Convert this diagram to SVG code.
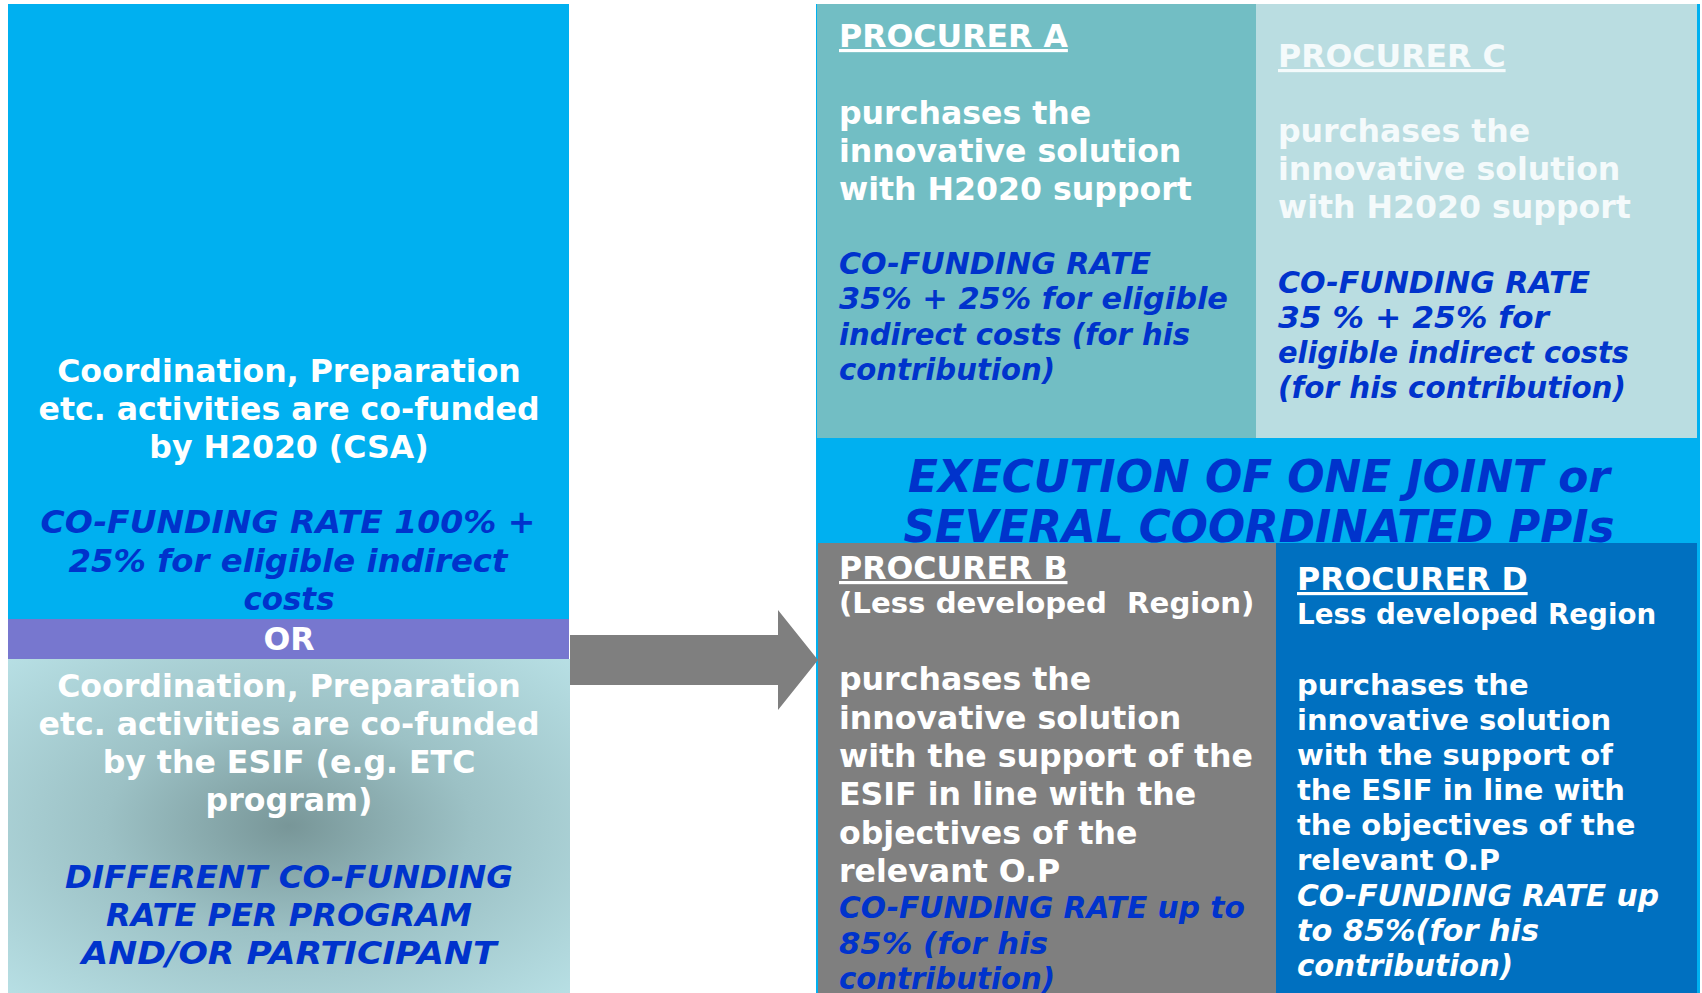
<svg xmlns="http://www.w3.org/2000/svg" width="1702" height="993" viewBox="0 0 1702 993">
  <defs>
    <radialGradient id="esifShade" cx="50%" cy="50%" r="72%">
      <stop offset="0" stop-color="#789698"/>
      <stop offset="0.45" stop-color="#9CC1C5"/>
      <stop offset="1" stop-color="#B8E0E5"/>
    </radialGradient>
    <style>
      .t { font-family: "DejaVu Sans", Verdana, "Liberation Sans", sans-serif; font-weight: bold; }
      .w { fill: #FFFFFF; }
      .fw { fill: #F4FAFB; }
      .bl { fill: #0033CC; }
      .it { font-style: italic; }
      .mid { text-anchor: middle; }
      .ul { text-decoration: underline; }
      .s316 { font-size: 31.6px; }
      .s32 { font-size: 32px; }
      .s30 { font-size: 30px; }
      .s29 { font-size: 29px; }
      .s44 { font-size: 44px; }
    </style>
  </defs>

  <rect width="1702" height="993" fill="#FFFFFF"/>

  <!-- Left column: coordination activities funded by H2020 -->
  <g id="csa-h2020">
    <rect x="8" y="4" width="561" height="615" fill="#00B0F0"/>
    <text class="t w mid s316" x="289" y="382">Coordination, Preparation</text>
    <text class="t w mid s316" x="289" y="420">etc. activities are co-funded</text>
    <text class="t w mid s316" x="289" y="458">by H2020 (CSA)</text>
    <text class="t bl it mid s32" x="288" y="533" textLength="495" lengthAdjust="spacingAndGlyphs">CO-FUNDING RATE 100% +</text>
    <text class="t bl it mid s32" x="288" y="572" textLength="439" lengthAdjust="spacingAndGlyphs">25% for eligible indirect</text>
    <text class="t bl it mid s32" x="289" y="610" textLength="91" lengthAdjust="spacingAndGlyphs">costs</text>
  </g>

  <!-- Alternative separator -->
  <g id="or-label">
    <rect x="8" y="619" width="561" height="40" fill="#7777CF"/>
    <text class="t w mid s316" x="289" y="650">OR</text>
  </g>

  <!-- Left column: coordination activities funded by ESIF -->
  <g id="csa-esif">
    <rect x="8" y="659" width="562" height="334" fill="url(#esifShade)"/>
    <text class="t w mid s316" x="289" y="697">Coordination, Preparation</text>
    <text class="t w mid s316" x="289" y="735">etc. activities are co-funded</text>
    <text class="t w mid s316" x="289" y="773">by the ESIF (e.g. ETC</text>
    <text class="t w mid s316" x="289" y="811">program)</text>
    <text class="t bl it mid s32" x="289" y="888" textLength="448" lengthAdjust="spacingAndGlyphs">DIFFERENT CO-FUNDING</text>
    <text class="t bl it mid s32" x="289" y="926" textLength="366" lengthAdjust="spacingAndGlyphs">RATE PER PROGRAM</text>
    <text class="t bl it mid s32" x="289" y="964" textLength="415" lengthAdjust="spacingAndGlyphs">AND/OR PARTICIPANT</text>
  </g>

  <!-- Right block frame -->
  <rect x="816" y="4" width="884" height="989" fill="#00B0F0"/>

  <g id="procurer-a">
    <rect x="817" y="4" width="439" height="434" fill="#72BEC4"/>
    <text class="t w ul s316" x="839" y="47">PROCURER A</text>
    <text class="t w s316" x="839" y="124">purchases the</text>
    <text class="t w s316" x="839" y="162">innovative solution</text>
    <text class="t w s316" x="839" y="200">with H2020 support</text>
    <text class="t bl it s30" x="839" y="274" textLength="312" lengthAdjust="spacingAndGlyphs">CO-FUNDING RATE</text>
    <text class="t bl it s30" x="839" y="309" textLength="389" lengthAdjust="spacingAndGlyphs">35% + 25% for eligible</text>
    <text class="t bl it s30" x="839" y="345" textLength="351" lengthAdjust="spacingAndGlyphs">indirect costs (for his</text>
    <text class="t bl it s30" x="839" y="380" textLength="216" lengthAdjust="spacingAndGlyphs">contribution)</text>
  </g>

  <g id="procurer-c">
    <rect x="1256" y="4" width="441" height="434" fill="#BADDE1"/>
    <text class="t fw ul s316" x="1278" y="67">PROCURER C</text>
    <text class="t fw s316" x="1278" y="142">purchases the</text>
    <text class="t fw s316" x="1278" y="180">innovative solution</text>
    <text class="t fw s316" x="1278" y="218">with H2020 support</text>
    <text class="t bl it s30" x="1278" y="293" textLength="312" lengthAdjust="spacingAndGlyphs">CO-FUNDING RATE</text>
    <text class="t bl it s30" x="1278" y="328" textLength="271" lengthAdjust="spacingAndGlyphs">35 % + 25% for</text>
    <text class="t bl it s30" x="1278" y="363" textLength="351" lengthAdjust="spacingAndGlyphs">eligible indirect costs</text>
    <text class="t bl it s30" x="1278" y="398" textLength="348" lengthAdjust="spacingAndGlyphs">(for his contribution)</text>
  </g>

  <g id="execution">
    <rect x="817" y="438" width="880" height="105" fill="#00B0F0"/>
    <text class="t bl it mid s44" x="1259" y="492" textLength="702" lengthAdjust="spacingAndGlyphs">EXECUTION OF ONE JOINT or</text>
    <text class="t bl it mid s44" x="1259" y="542" textLength="711" lengthAdjust="spacingAndGlyphs">SEVERAL COORDINATED PPIs</text>
  </g>

  <g id="procurer-b">
    <rect x="818" y="543" width="458" height="450" fill="#7F7F7F"/>
    <text class="t w ul s316" x="839" y="579">PROCURER B</text>
    <text class="t w" x="839" y="613" font-size="29.2" style="white-space:pre">(Less developed  Region)</text>
    <text class="t w s316" x="839" y="690">purchases the</text>
    <text class="t w s316" x="839" y="729">innovative solution</text>
    <text class="t w s316" x="839" y="767">with the support of the</text>
    <text class="t w s316" x="839" y="805">ESIF in line with the</text>
    <text class="t w s316" x="839" y="844">objectives of the</text>
    <text class="t w s316" x="839" y="882">relevant O.P</text>
    <text class="t bl it s30" x="839" y="918" textLength="406" lengthAdjust="spacingAndGlyphs">CO-FUNDING RATE up to</text>
    <text class="t bl it s30" x="839" y="954" textLength="209" lengthAdjust="spacingAndGlyphs">85% (for his</text>
    <text class="t bl it s30" x="839" y="989" textLength="216" lengthAdjust="spacingAndGlyphs">contribution)</text>
  </g>

  <g id="procurer-d">
    <rect x="1276" y="543" width="421" height="450" fill="#0070C0"/>
    <text class="t w ul s316" x="1297" y="590">PROCURER D</text>
    <text class="t w" x="1297" y="624" font-size="27.7">Less developed Region</text>
    <text class="t w s29" x="1297" y="695">purchases the</text>
    <text class="t w s29" x="1297" y="730">innovative solution</text>
    <text class="t w s29" x="1297" y="765">with the support of</text>
    <text class="t w s29" x="1297" y="800">the ESIF in line with</text>
    <text class="t w s29" x="1297" y="835">the objectives of the</text>
    <text class="t w s29" x="1297" y="870">relevant O.P</text>
    <text class="t w it s30" x="1297" y="906" textLength="362" lengthAdjust="spacingAndGlyphs">CO-FUNDING RATE up</text>
    <text class="t w it s30" x="1297" y="941" textLength="242" lengthAdjust="spacingAndGlyphs">to 85%(for his</text>
    <text class="t w it s30" x="1297" y="976" textLength="216" lengthAdjust="spacingAndGlyphs">contribution)</text>
  </g>

  <!-- Connector: block arrow from coordination to execution -->
  <g id="connectors">
    <polygon points="570,635 778,635 778,610 818,660 778,710 778,685 570,685" fill="#7F7F7F"/>
  </g>
</svg>
